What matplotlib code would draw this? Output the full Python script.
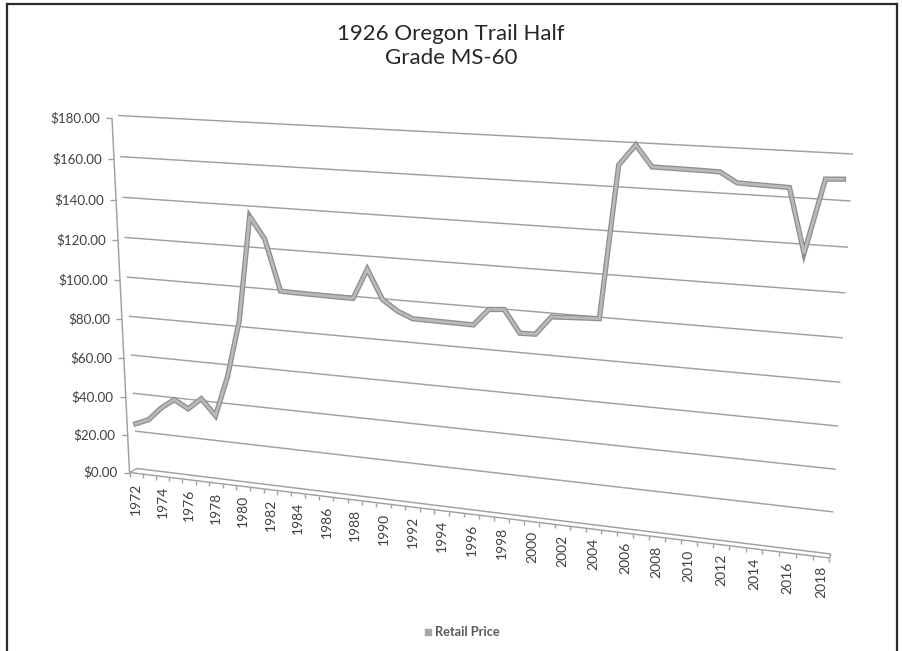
import numpy as np
import matplotlib
matplotlib.use("Agg")
import matplotlib.pyplot as plt
import matplotlib.patheffects as pe
from matplotlib.transforms import Transform, ScaledTranslation

# ---- data -------------------------------------------------------------
years = list(range(1972, 2019))
retail_price = [
    24, 27, 34, 39, 35, 41, 33, 54, 83, 135, 124.5,          # 1972-1982
    99.5, 99.3, 99.2, 99.1, 99.0, 99.0,                       # 1983-1988
    113.7, 99.6, 94.6,                                        # 1989-1991
    91.6, 91.5, 91.4, 91.3, 91.2,                             # 1992-1996
    99.2, 99.8, 89.2, 89.4,                                   # 1997-2000
    98.2, 98.6, 99.0, 99.3,                                   # 2001-2004
    169.7, 179.0, 169.7, 169.6, 169.5, 169.4, 169.2,          # 2005-2011
    164.9, 164.6, 164.4, 164.2, 136.0, 168.7, 169.1,          # 2012-2018
]
value_ticks = [0, 20, 40, 60, 80, 100, 120, 140, 160, 180]
year_labels = years[::2]
chart_title = "1926 Oregon Trail Half\nGrade MS-60"
series_name = "Retail Price"

FONT = ["Lato", "DejaVu Sans"]
W, H = 903, 651


class PlaneProjection(Transform):
    """Perspective (homography) mapping of the (year, value) plane onto the canvas."""
    input_dims = output_dims = 2
    is_separable = False

    def __init__(self, src, dst):
        super().__init__()
        A, b = [], []
        for (x, y), (X, Y) in zip(src, dst):
            A.append([x, y, 1, 0, 0, 0, -X * x, -X * y]); b.append(X)
            A.append([0, 0, 0, x, y, 1, -Y * x, -Y * y]); b.append(Y)
        h = np.linalg.solve(np.array(A, float), np.array(b, float))
        self.M = np.append(h, 1.0).reshape(3, 3)

    def transform_non_affine(self, values):
        v = np.asarray(values, float).reshape(-1, 2)
        p = np.column_stack([v, np.ones(len(v))]) @ self.M.T
        return p[:, :2] / p[:, 2:3]


fig = plt.figure(figsize=(W / 100, H / 100), dpi=100)
ax = fig.add_axes([0, 0, 1, 1])
ax.set_xlim(0, W)
ax.set_ylim(H, 0)
ax.set_autoscale_on(False)
ax.axis("off")

vmax = value_ticks[-1]
# back wall (gridlines + series) and front edge (axes, labels)
x0b, x1b = 1971.9, 2018.45
back = PlaneProjection([(x0b, 0), (x1b, 0), (x0b, vmax), (x1b, vmax)],
                       [(137, 468.5), (831, 554), (118, 115.5), (853, 154)]) + ax.transData
x0f, x1f = 1971.5, 2018.5
front = PlaneProjection([(x0f, 0), (x1f, 0), (x0f, vmax), (x1f, vmax)],
                        [(129.5, 472.5), (829.5, 558), (112, 118), (851, 156)]) + ax.transData


def px(dx, dy):
    return ScaledTranslation(dx / 100, -dy / 100, fig.dpi_scale_trans)


grid_kw = dict(color="#a0a0a0", lw=1.05, solid_capstyle="butt")
# gridlines on the back wall
for v in value_ticks:
    ax.plot([x0b, x1b], [v, v], transform=back, **grid_kw)

# floor: front edge plus end caps
ax.plot([x0f, x1f], [0, 0], transform=front, **grid_kw)
for xb, xf in [(x0b, x0f), (x1b, x1f)]:
    pb = back.transform([(xb, 0)])[0]
    pf = front.transform([(xf, 0)])[0]
    ax.plot([pb[0], pf[0]], [pb[1], pf[1]], transform=None, **grid_kw)

# value axis with tick marks and labels
ax.plot([x0f, x0f], [0, vmax], transform=front, **grid_kw)
ax.plot(np.full(len(value_ticks), x0f), value_ticks, ls="none", marker=0, ms=4.5,
        mew=1.0, color="#a0a0a0", transform=front)
for v in value_ticks:
    ax.text(x0f, v, f"${v:,.2f}", transform=front + px(-12, 0), ha="right",
            va="center", fontsize=9.6, color="#404040", family=FONT)

# category ticks and labels along the floor
bounds = np.arange(x0f, x1f + 0.5)
ax.plot(bounds, np.zeros(len(bounds)), ls="none", marker=3, ms=3.2, mew=1.0,
        color="#a0a0a0", transform=front)
for y in year_labels:
    ax.text(y, 0, str(y), transform=front + px(0, 9), rotation=90, ha="center",
            va="top", fontsize=10, color="#404040", family=FONT)

# the series
ax.plot(years, retail_price, transform=back, color="#b9b9b9", lw=2.0,
        solid_joinstyle="miter",
        path_effects=[pe.Stroke(linewidth=3.8, foreground="#8e8e8e"), pe.Normal()])

# title
fig.text(451, H - 46, chart_title, transform=None, ha="center", va="center",
         fontsize=16, color="#262626", family=FONT, linespacing=1.3)

# legend
ax.plot([428], [632], marker="s", ms=5, color="#a6a6a6", ls="none")
ax.text(435, 632, series_name, ha="left", va="center", fontsize=9.2,
        color="#595959", family=FONT, fontweight="bold")

# chart frame
for (xa, ya), (xb_, yb_) in [((7, 3.5), (7, H)), ((7, 3.5), (897, 3.5)), ((897, 3.5), (897, H))]:
    ax.plot([xa, xb_], [ya, yb_], color="#2b2b2b", lw=1.6, solid_capstyle="projecting")

fig.savefig("out.png", dpi=100)
